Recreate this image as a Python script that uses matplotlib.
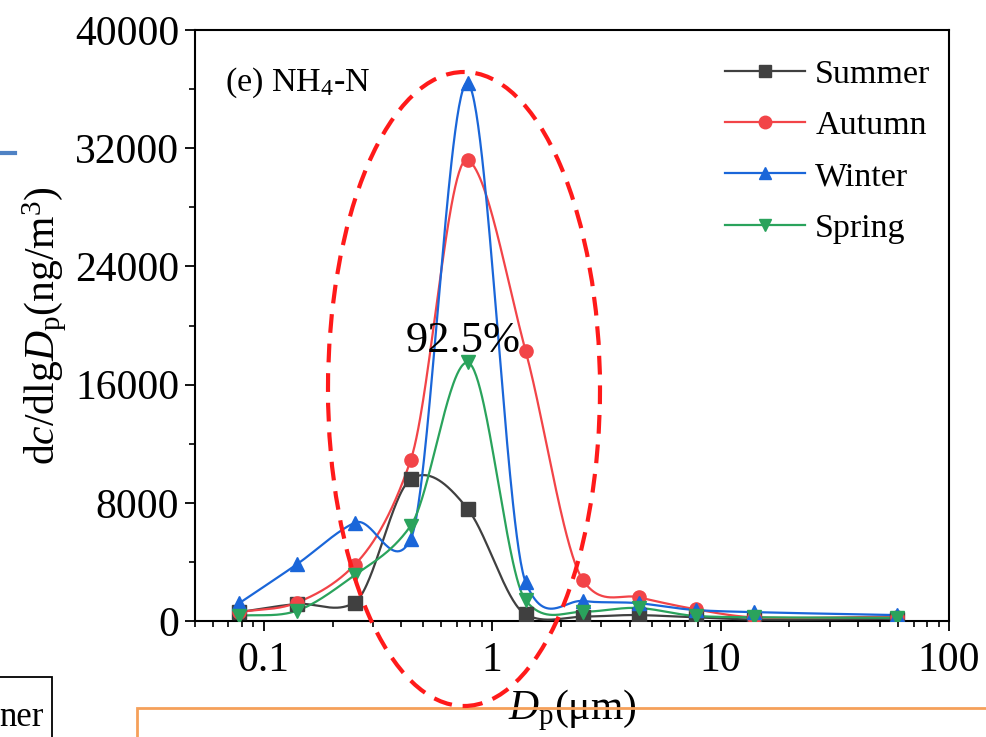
import numpy as np
import matplotlib
matplotlib.use("Agg")
import matplotlib.pyplot as plt
from matplotlib.patches import Ellipse, Rectangle
from matplotlib.lines import Line2D
from matplotlib.ticker import FixedLocator, FixedFormatter, MultipleLocator, LogLocator, NullFormatter

# particle size (um) and dc/dlgDp (ng/m3) per season
dp = [0.078, 0.14, 0.25, 0.44, 0.78, 1.4, 2.5, 4.4, 7.8, 14, 59]
summer = [600, 1150, 1250, 9600, 7600, 450, 290, 400, 250, 100, 150]
autumn = [600, 1250, 3800, 10900, 31200, 18300, 2750, 1600, 790, 250, 300]
winter = [1200, 3850, 6650, 5550, 36400, 2650, 1350, 1200, 740, 600, 400]
spring = [350, 700, 3100, 6450, 17500, 1400, 630, 880, 340, 250, 220]

seasons = ["Summer", "Autumn", "Winter", "Spring"]
series = [summer, autumn, winter, spring]
colors = ["#404040", "#f24448", "#1a66d9", "#2aa35c"]
markers = ["s", "o", "^", "v"]

W, H = 986, 737


def smooth_line(x, y, n=60):
    """Cubic Hermite curve through the points, tangents halfway between
    Catmull-Rom and Akima (keeps the overshoot moderate, like the original)."""
    x = np.asarray(x, float)
    y = np.asarray(y, float)
    k = len(x)
    s = np.diff(y) / np.diff(x)
    t = np.zeros(k)
    t[0], t[-1] = s[0], s[-1]
    for i in range(1, k - 1):
        cr = (y[i + 1] - y[i - 1]) / (x[i + 1] - x[i - 1])
        if i >= 2 and i <= k - 3:
            w1 = abs(s[i + 1] - s[i])
            w2 = abs(s[i - 1] - s[i - 2])
            ak = (w1 * s[i - 1] + w2 * s[i]) / (w1 + w2) if w1 + w2 > 0 else cr
        else:
            ak = cr
        t[i] = 0.5 * (cr + ak)
    xs, ys = [], []
    for i in range(k - 1):
        h = x[i + 1] - x[i]
        u = np.linspace(0, 1, n, endpoint=(i == k - 2))
        h00 = 2 * u ** 3 - 3 * u ** 2 + 1
        h10 = u ** 3 - 2 * u ** 2 + u
        h01 = -2 * u ** 3 + 3 * u ** 2
        h11 = u ** 3 - u ** 2
        xs.append(x[i] + u * h)
        ys.append(h00 * y[i] + h10 * h * t[i] + h01 * y[i + 1] + h11 * h * t[i + 1])
    return np.concatenate(xs), np.concatenate(ys)


plt.rcParams["font.family"] = "Liberation Serif"
plt.rcParams["mathtext.fontset"] = "custom"
plt.rcParams["mathtext.rm"] = "Liberation Serif"
plt.rcParams["mathtext.it"] = "Liberation Serif:italic"

fig = plt.figure(figsize=(W / 100, H / 100), dpi=100)
ax = fig.add_axes([195 / W, 1 - 621 / H, (949 - 195) / W, (621 - 30) / H])

lx = np.log10(dp)
for name, vals, c, mk in zip(seasons, series, colors, markers):
    xs, ys = smooth_line(lx, vals)
    ax.plot(10 ** xs, ys, color=c, lw=1.6, zorder=3)
    ax.plot(dp, vals, ls="none", marker=mk, ms=9.5, color=c, mec=c, zorder=4)

ax.set_xscale("log")
ax.set_xlim(0.05, 100)
ax.set_ylim(0, 40000)
ax.yaxis.set_major_locator(MultipleLocator(8000))
ax.yaxis.set_minor_locator(MultipleLocator(4000))
ax.xaxis.set_major_locator(FixedLocator([0.1, 1, 10, 100]))
ax.xaxis.set_major_formatter(FixedFormatter(["0.1", "1", "10", "100"]))
ax.xaxis.set_minor_locator(LogLocator(base=10, subs=np.arange(2, 10)))
ax.xaxis.set_minor_formatter(NullFormatter())

for sp in ax.spines.values():
    sp.set_linewidth(1.5)
ax.tick_params(which="major", direction="out", length=7.5, width=1.3, labelsize=30,
               top=False, right=False)
ax.tick_params(which="minor", direction="out", length=4.2, width=1.2, top=False, right=False)
ax.tick_params(axis="x", pad=7)
ax.tick_params(axis="y", pad=4)

ax.set_xlabel(r"$D_{\rm p}$(μm)", fontsize=30, labelpad=6)
ax.set_ylabel(r"d$c$/dlg$D_{\rm p}$(ng/m$^3$)", fontsize=30, labelpad=4)

ax.text(225 / W, 1 - 83 / H, r"(e) NH$_4$-N", transform=fig.transFigure,
        fontsize=24.5, ha="left", va="center")
ax.text(463 / W, 1 - 341 / H, "92.5%", transform=fig.transFigure,
        fontsize=32, ha="center", va="center", zorder=6)

# dashed ellipse around the fine-mode peak
ell = Ellipse((464 / W, 1 - 389 / H), 272 / W, 634 / H, transform=fig.transFigure,
              fill=False, ec="#ff1a1a", lw=3, ls=(0, (4.5, 2.6)), clip_on=False, zorder=5)
fig.patches.append(ell)

handles = [Line2D([], [], color=c, marker=mk, ms=9, lw=1.6) for c, mk in zip(colors, markers)]
fig.legend(handles, seasons, loc="upper left", bbox_to_anchor=(725 / W, 1 - 59 / H),
           frameon=False, fontsize=24.5, handlelength=2.35, handletextpad=0.3,
           labelspacing=0.6, borderpad=0, borderaxespad=0)

# fragments of the neighbouring panels at the crop edges
fig.add_artist(Line2D([0, 15 / W], [1 - 153 / H] * 2, color="#4f82c4", lw=3))
fig.patches.append(Rectangle((-10 / W, -10 / H), 62 / W, (60 + 10) / H,
                             transform=fig.transFigure, fill=False, ec="black", lw=1.3))
fig.text(44 / W, 1 - 717 / H, "ner", fontsize=25, ha="right", va="center")
fig.patches.append(Rectangle((137 / W, -10 / H), 900 / W, (29 + 10) / H,
                             transform=fig.transFigure, fill=False, ec="#f5a05a", lw=2))

fig.savefig("out.png", dpi=100)
